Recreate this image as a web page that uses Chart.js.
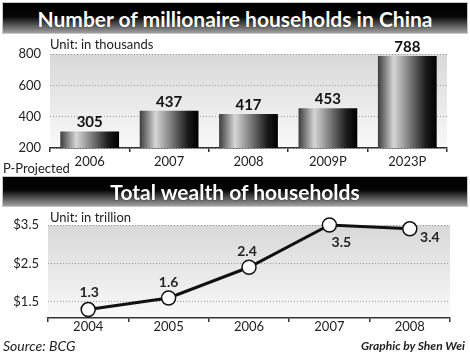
<!DOCTYPE html>
<html><head><meta charset="utf-8">
<script src="https://cdn.jsdelivr.net/npm/chart.js@4"></script>
<style>
body{margin:0;width:470px;height:355px;background:#fff;position:relative;overflow:hidden;font-family:"Liberation Sans Narrow","Arial Narrow",Lato,sans-serif;color:#222}
.banner{position:absolute;left:3px;width:464px;background:linear-gradient(to bottom,#000 0%,#050505 45%,#a0a0a0 100%);color:#fff;font-weight:bold;text-align:center;box-shadow:0 0 0 1px #c8c8c8;white-space:nowrap;text-shadow:0 0 1px #000}
#b1{top:3px;height:30px;line-height:31px;font-size:21px}
#b2{top:177px;height:29px;line-height:30px;font-size:21px}
.t{position:absolute;font-size:13px;white-space:nowrap;line-height:1}
#c1wrap{position:absolute;left:0;top:34px;width:470px;height:140px}
#c2wrap{position:absolute;left:0;top:207px;width:470px;height:130px}
</style></head>
<body>
<div class="banner" id="b1">Number of millionaire households in China</div>
<div id="c1wrap"><canvas id="c1"></canvas></div>
<div class="t" style="left:50px;top:38px">Unit: in thousands</div>
<div class="t" style="left:3px;top:162px">P-Projected</div>
<div class="banner" id="b2">Total wealth of households</div>
<div id="c2wrap"><canvas id="c2"></canvas></div>
<div class="t" style="left:50px;top:211px">Unit: in trillion</div>
<div class="t" style="left:3px;top:339px;font-style:italic;font-size:14px">Source: BCG</div>
<div class="t" style="right:5px;top:340px;font-style:italic;font-weight:bold;font-size:12px">Graphic by Shen Wei</div>
<script>
// ---- data ----
const barCategories = ['2006', '2007', '2008', '2009P', '2023P'];
const households = [305, 437, 417, 453, 788];
const barYTicks = [200, 400, 600, 800];

const lineCategories = ['2004', '2005', '2006', '2007', '2008'];
const wealth = [1.3, 1.6, 2.4, 3.5, 3.4];
const lineYTicks = [1.5, 2.5, 3.5];

const FONT = '"Liberation Sans Narrow","Arial Narrow",Lato,sans-serif';
Chart.defaults.font.family = FONT;
Chart.defaults.font.size = 13;
Chart.defaults.color = '#222';
Chart.defaults.animation = false;

const plotBg = {
  id: 'plotBg',
  beforeDraw(chart) {
    const {ctx, chartArea: a} = chart;
    const g = ctx.createLinearGradient(0, a.top, 0, a.bottom);
    g.addColorStop(0, '#d8d8d8');
    g.addColorStop(1, '#f9f9f9');
    ctx.save();
    ctx.fillStyle = g;
    ctx.fillRect(a.left, a.top, a.right - a.left, a.bottom - a.top);
    ctx.restore();
  }
};

const valueLabels = {
  id: 'valueLabels',
  afterDatasetsDraw(chart, args, opts) {
    const ctx = chart.ctx;
    const meta = chart.getDatasetMeta(0);
    const data = chart.data.datasets[0].data;
    ctx.save();
    ctx.font = opts.font;
    ctx.fillStyle = opts.color;
    ctx.textAlign = 'center';
    ctx.textBaseline = 'middle';
    meta.data.forEach((el, i) => {
      const off = opts.offsets[i];
      ctx.fillText(String(data[i]), el.x + off[0], el.y + off[1]);
    });
    ctx.restore();
  }
};

function barGradient(c) {
  const ch = c.chart;
  const xs = ch.scales.x;
  if (!ch.chartArea || !xs) return '#666';
  const x = xs.getPixelForValue(c.dataIndex);
  const w = (xs.width / barCategories.length) * 0.74;
  const g = ch.ctx.createLinearGradient(x - w / 2, 0, x + w / 2, 0);
  g.addColorStop(0, '#3c3c3c');
  g.addColorStop(0.27, '#d6d6d6');
  g.addColorStop(0.55, '#777');
  g.addColorStop(0.82, '#1a1a1a');
  g.addColorStop(1, '#000');
  return g;
}

new Chart(document.getElementById('c1'), {
  type: 'bar',
  data: {
    labels: barCategories,
    datasets: [{
      data: households,
      backgroundColor: barGradient,
      borderWidth: 0,
      categoryPercentage: 1,
      barPercentage: 0.74
    }]
  },
  options: {
    responsive: true,
    maintainAspectRatio: false,
    layout: {padding: {top: 20, right: 23, left: 0, bottom: 0}},
    plugins: {
      legend: {display: false},
      tooltip: {enabled: false},
      valueLabels: {font: 'bold 15px ' + FONT, color: '#111', offsets: [[0, -9], [0, -9], [0, -9], [0, -9], [0, -9]]}
    },
    scales: {
      x: {
        grid: {display: true, offset: true, drawOnChartArea: false, drawTicks: true, tickLength: 4, color: '#333', lineWidth: 1.5},
        border: {display: true, color: '#333', width: 1.5},
        ticks: {padding: 2, font: {size: 13}},
        afterFit(s) { s.height = 26; }
      },
      y: {
        min: 200, max: 800,
        afterBuildTicks(s) { s.ticks = barYTicks.map(v => ({value: v})); },
        grid: {color: '#9a9a9a', lineWidth: 1, drawTicks: false},
        border: {display: false, dash: [1, 2]},
        ticks: {padding: 9, font: {size: 13}},
        afterFit(s) { s.width = 50; }
      }
    }
  },
  plugins: [plotBg, valueLabels]
});

new Chart(document.getElementById('c2'), {
  type: 'line',
  data: {
    labels: lineCategories,
    datasets: [{
      data: wealth,
      borderColor: '#111',
      borderWidth: 3,
      pointRadius: 7,
      pointBorderWidth: 1.5,
      pointBackgroundColor: '#fff',
      pointBorderColor: '#111',
      tension: 0,
      clip: false
    }]
  },
  options: {
    responsive: true,
    maintainAspectRatio: false,
    layout: {padding: {top: 18, right: 20, left: 0, bottom: 0}},
    plugins: {
      legend: {display: false},
      tooltip: {enabled: false},
      valueLabels: {font: 'bold 14px ' + FONT, color: '#222', offsets: [[1, -17], [0, -16], [-2, -16], [12, 17], [20, 9]]}
    },
    scales: {
      x: {
        offset: true,
        grid: {display: true, offset: true, drawOnChartArea: false, drawTicks: true, tickLength: 4, color: '#333', lineWidth: 1.5},
        border: {display: true, color: '#333', width: 1.5},
        ticks: {padding: -3, font: {size: 13}},
        afterFit(s) { s.height = 19; }
      },
      y: {
        min: 1.08, max: 3.5,
        afterBuildTicks(s) { s.ticks = lineYTicks.map(v => ({value: v})); },
        grid: {color: '#9a9a9a', lineWidth: 1, drawTicks: false},
        border: {display: false, dash: [1, 2]},
        ticks: {padding: 9, font: {size: 13}, callback: v => '$' + v.toFixed(1)},
        afterFit(s) { s.width = 48; }
      }
    }
  },
  plugins: [plotBg, valueLabels]
});
</script>
</body></html>
